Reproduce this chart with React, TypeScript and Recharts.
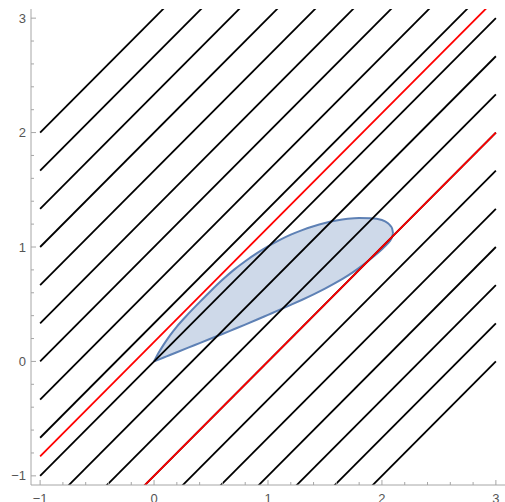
import React from 'react';
import { ComposedChart, Line, Area, XAxis, YAxis } from 'recharts';

// Family of lines y = x + c
const blackIntercepts = [3, 2.667, 2.333, 2, 1.667, 1.333, 1, 0.667, 0.333, 0, -0.333, -0.667, -1, -1.333, -1.667, -2, -2.333, -2.667, -3];
const redIntercepts = [0.17, -1];
const lineXRange = [-1, 3];

// Region boundary (lower and upper y at each x)
const shapeX = [0, 0.04, 0.08, 0.14, 0.2, 0.3, 0.4, 0.5, 0.6, 0.7, 0.8, 0.9, 1.0, 1.1, 1.2, 1.3, 1.4, 1.5, 1.6, 1.7, 1.8, 1.9, 2.0, 2.05, 2.075, 2.09, 2.097];
const shapeUpper = [0, 0.075, 0.14, 0.228, 0.305, 0.415, 0.518, 0.618, 0.713, 0.8, 0.876, 0.944, 1.005, 1.06, 1.108, 1.148, 1.182, 1.21, 1.232, 1.247, 1.254, 1.252, 1.236, 1.21, 1.185, 1.16, 1.12];
const shapeLower = [0, 0.016, 0.032, 0.056, 0.08, 0.12, 0.16, 0.2, 0.24, 0.281, 0.322, 0.364, 0.407, 0.45, 0.494, 0.539, 0.586, 0.636, 0.69, 0.75, 0.818, 0.895, 0.98, 1.03, 1.06, 1.09, 1.12];

// Frame ticks
const tickValues = [-1, -0.8, -0.6, -0.4, -0.2, 0, 0.2, 0.4, 0.6, 0.8, 1, 1.2, 1.4, 1.6, 1.8, 2, 2.2, 2.4, 2.6, 2.8, 3];
const majorTicks = [-1, 0, 1, 2, 3];
const majorLabels = ['\u22121', '0', '1', '2', '3'];

const domain: [number, number] = [-1.08, 3.08];

const FRAME = '#a6a6a6';
const LABEL = '#555555';
const FONT = '"Liberation Sans", Arial, sans-serif';
const MAJOR_LEN = 5;
const MINOR_LEN = 3;

const shapeData = shapeX.map((x, i) => ({ x, range: [shapeLower[i], shapeUpper[i]] }));
const makeLine = (c: number) => lineXRange.map((x) => ({ x, y: x + c }));

const labelFor = (v: number) => {
  const idx = majorTicks.findIndex((m) => Math.abs(m - v) < 1e-9);
  return idx >= 0 ? majorLabels[idx] : null;
};

const BottomTick = (props: any) => {
  const { x, y, payload } = props;
  const label = labelFor(payload.value);
  const len = label !== null ? MAJOR_LEN : MINOR_LEN;
  return (
    <g>
      <line x1={x} y1={y} x2={x} y2={y - len} stroke={FRAME} strokeWidth={1} />
      {label !== null && (
        <text x={x} y={y + 13} textAnchor="middle" dominantBaseline="central" fill={LABEL} fontSize={13} fontFamily={FONT}>
          {label}
        </text>
      )}
    </g>
  );
};

const TopTick = (props: any) => {
  const { x, y, payload } = props;
  const len = labelFor(payload.value) !== null ? MAJOR_LEN : MINOR_LEN;
  return <line x1={x} y1={y} x2={x} y2={y + len} stroke={FRAME} strokeWidth={1} />;
};

const LeftTick = (props: any) => {
  const { x, y, payload } = props;
  const label = labelFor(payload.value);
  const len = label !== null ? MAJOR_LEN : MINOR_LEN;
  return (
    <g>
      <line x1={x} y1={y} x2={x + len} y2={y} stroke={FRAME} strokeWidth={1} />
      {label !== null && (
        <text x={x - 5} y={y} textAnchor="end" dominantBaseline="central" fill={LABEL} fontSize={13} fontFamily={FONT}>
          {label}
        </text>
      )}
    </g>
  );
};

const RightTick = (props: any) => {
  const { x, y, payload } = props;
  const len = labelFor(payload.value) !== null ? MAJOR_LEN : MINOR_LEN;
  return <line x1={x} y1={y} x2={x - len} y2={y} stroke={FRAME} strokeWidth={1} />;
};

export default function App() {
  return (
    <div style={{ position: 'absolute', left: 0, top: 0, background: '#fff' }}>
      <ComposedChart width={505} height={502} margin={{ top: 9, right: 0, bottom: 0, left: 0 }}>
        <XAxis
          xAxisId={0}
          type="number"
          dataKey="x"
          domain={domain}
          allowDataOverflow
          ticks={tickValues}
          interval={0}
          tick={<BottomTick />}
          tickSize={0}
          tickMargin={0}
          height={17}
          axisLine={{ stroke: FRAME }}
          orientation="bottom"
        />
        <XAxis
          xAxisId="top"
          type="number"
          dataKey="x"
          domain={domain}
          allowDataOverflow
          ticks={tickValues}
          interval={0}
          tick={<TopTick />}
          tickSize={0}
          tickMargin={0}
          height={0}
          axisLine={{ stroke: FRAME }}
          orientation="top"
        />
        <YAxis
          yAxisId={0}
          type="number"
          domain={domain}
          allowDataOverflow
          ticks={tickValues}
          interval={0}
          tick={<LeftTick />}
          tickSize={0}
          tickMargin={0}
          width={31}
          axisLine={{ stroke: FRAME }}
          orientation="left"
        />
        <YAxis
          yAxisId="right"
          type="number"
          domain={domain}
          allowDataOverflow
          ticks={tickValues}
          interval={0}
          tick={<RightTick />}
          tickSize={0}
          tickMargin={0}
          width={0}
          axisLine={{ stroke: FRAME }}
          orientation="right"
        />
        <Area
          data={shapeData}
          dataKey="range"
          type="monotone"
          stroke="#5e81b5"
          strokeWidth={2}
          fill="#5e81b5"
          fillOpacity={0.3}
          isAnimationActive={false}
          dot={false}
          activeDot={false}
        />
        {blackIntercepts.map((c, i) => (
          <Line
            key={'b' + i}
            data={makeLine(c)}
            dataKey="y"
            type="linear"
            stroke="#000000"
            strokeWidth={1.8}
            dot={false}
            activeDot={false}
            isAnimationActive={false}
          />
        ))}
        {redIntercepts.map((c, i) => (
          <Line
            key={'r' + i}
            data={makeLine(c)}
            dataKey="y"
            type="linear"
            stroke="#ff0000"
            strokeWidth={1.8}
            dot={false}
            activeDot={false}
            isAnimationActive={false}
          />
        ))}
      </ComposedChart>
    </div>
  );
}
